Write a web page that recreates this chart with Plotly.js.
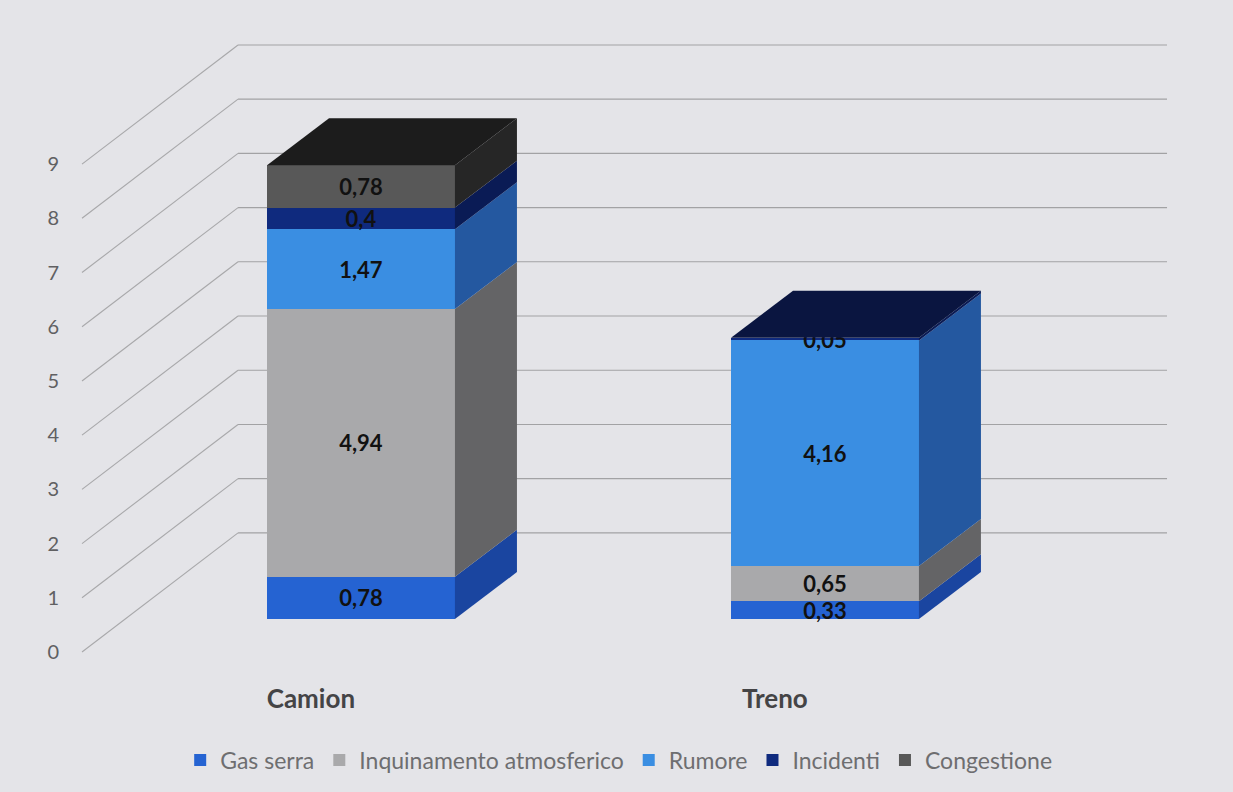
<!DOCTYPE html>
<html>
<head>
<meta charset="utf-8">
<script src="https://cdn.plot.ly/plotly-3.0.1.min.js"></script>
<style>html,body{margin:0;padding:0;background:#e4e4e8;}#chart{width:1233px;height:792px;}</style>
</head>
<body>
<div id="chart"></div>
<script>
// ---- data ----
const categories = ['Camion', 'Treno'];
const seriesNames = ['Gas serra', 'Inquinamento atmosferico', 'Rumore', 'Incidenti', 'Congestione'];
const gasSerra = [0.78, 0.33];
const inquinamento = [4.94, 0.65];
const rumore = [1.47, 4.16];
const incidenti = [0.4, 0.05];
const congestione = [0.78, 0];
const yTicks = [0, 1, 2, 3, 4, 5, 6, 7, 8, 9];

// ---- styles ----
const frontColors = ['#2563d2', '#a9a9ab', '#3a8ee2', '#0f2a7e', '#585858'];
const sideColors  = ['#1a45a0', '#646466', '#2458a0', '#0a1b55', '#262626'];
const topColors   = ['#12307a', '#4a4a4c', '#1d4a88', '#0a1540', '#1c1c1c'];

const allSeries = [gasSerra, inquinamento, rumore, incidenti, congestione];
const xPos = categories.map((c, i) => i);
const barW = 0.405;
const dx = 0.1336, dy = 0.866;     // bar depth (oblique projection)
const lx = 0.0927, ly = 0.608;     // label plane offset (front)
const catShift = 0.108;            // category label offset
const bx = 0.2436, by = 1.59;      // back wall offset
const wallL = -0.5086, wallR = 1.4935;

const xr = [-0.6056, 1.7931];
const yr = [-0.958, 11.05];

const fmt = v => v ? String(v).replace('.', ',') : '';

const traces = allSeries.map((vals, s) => ({
  type: 'bar',
  name: seriesNames[s],
  x: xPos,
  y: vals,
  width: barW,
  xaxis: 'x', yaxis: 'y',
  marker: {color: frontColors[s], line: {width: 0}},
  text: vals.map(fmt),
  textposition: 'inside',
  insidetextanchor: 'middle',
  textangle: 0,
  constraintext: 'none',
  textfont: {family: 'Lato', size: 22, color: '#111111', weight: 'bold'},
  hoverinfo: 'skip'
}));

const shapes = [];
// back wall grid lines and floor diagonals
yTicks.forEach(v => {
  shapes.push({type: 'line', xref: 'x', yref: 'y', layer: 'below',
    x0: wallL + bx, y0: v + by, x1: wallR + bx, y1: v + by,
    line: {color: '#a2a2a4', width: 1.1}});
  shapes.push({type: 'line', xref: 'x', yref: 'y', layer: 'below',
    x0: wallL - lx, y0: v - ly, x1: wallL + bx, y1: v + by,
    line: {color: '#a8a8aa', width: 1.1}});
});
// 3D side and top faces
xPos.forEach((xc, i) => {
  let base = 0, topSeries = -1;
  const xL = xc - barW / 2, xR = xc + barW / 2;
  allSeries.forEach((vals, s) => {
    const v = vals[i];
    if (!v) return;
    const y0 = base, y1 = base + v;
    shapes.push({type: 'path', xref: 'x', yref: 'y', layer: 'above', line: {width: 0},
      fillcolor: sideColors[s],
      path: `M ${xR} ${y0} L ${xR + dx} ${y0 + dy} L ${xR + dx} ${y1 + dy} L ${xR} ${y1} Z`});
    base = y1; topSeries = s;
  });
  if (topSeries >= 0) {
    shapes.push({type: 'path', xref: 'x', yref: 'y', layer: 'above', line: {width: 0},
      fillcolor: topColors[topSeries],
      path: `M ${xL} ${base} L ${xL + dx} ${base + dy} L ${xR + dx} ${base + dy} L ${xR} ${base} Z`});
  }
});

const layout = {
  width: 1233, height: 792,
  paper_bgcolor: '#e4e4e8', plot_bgcolor: 'rgba(0,0,0,0)',
  margin: {l: 80, r: 40, t: 20, b: 120},
  barmode: 'stack',
  showlegend: true,
  legend: {orientation: 'h', x: 0.484, xanchor: 'center', y: -0.135, yanchor: 'middle',
    font: {family: 'Lato', size: 23, color: '#6e6e70'}, traceorder: 'normal',
    itemwidth: 30, bgcolor: 'rgba(0,0,0,0)'},
  xaxis: {range: xr, visible: false, fixedrange: true},
  yaxis: {range: yr, visible: false, fixedrange: true},
  xaxis2: {overlaying: 'x', anchor: 'y', side: 'bottom', range: [xr[0] + catShift, xr[1] + catShift],
    tickvals: xPos, ticktext: categories, showgrid: false, zeroline: false, showline: false,
    ticks: '', ticklabelstandoff: 10,
    tickfont: {family: 'Lato', size: 26, color: '#444446', weight: 'bold'}},
  yaxis2: {overlaying: 'y', anchor: 'x', side: 'left', range: [yr[0] + ly, yr[1] + ly],
    tickvals: yTicks, showgrid: false, zeroline: false, showline: false,
    ticks: '', ticklabelstandoff: 20,
    tickfont: {family: 'Lato', size: 20, color: '#606062'}},
  shapes: shapes
};

// invisible trace to activate the label axes
traces.push({type: 'scatter', x: xPos, y: [0, 0], xaxis: 'x2', yaxis: 'y2',
  mode: 'markers', marker: {opacity: 0}, showlegend: false, hoverinfo: 'skip'});

Plotly.newPlot('chart', traces, layout, {displayModeBar: false, staticPlot: true});
</script>
</body>
</html>
